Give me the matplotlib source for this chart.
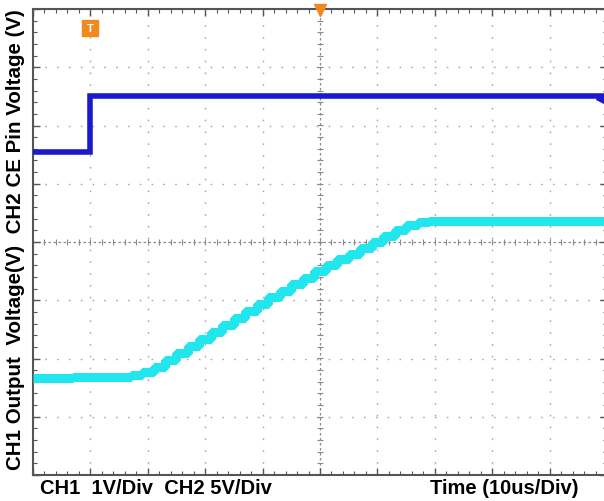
import numpy as np
import matplotlib
matplotlib.use("Agg")
import matplotlib.pyplot as plt
from matplotlib.ticker import MultipleLocator

# screen coordinates in divisions: x -5..5, y -4..4
ch2_x = [-5.0, -4.0, -4.0, 5.0]
ch2_y = [1.55, 1.55, 2.50, 2.50]

ch1_x = [-5.0, -3.6, -3.4, -3.2, -3.0, -2.8, -2.6, -2.4, -2.2, -2.0, -1.8, -1.6,
         -1.4, -1.2, -1.0, -0.8, -0.6, -0.4, -0.2, 0.0, 0.2, 0.4, 0.6, 0.8,
         1.0, 1.2, 1.4, 1.6, 1.8, 2.0, 5.0]
ch1_y = [-2.33, -2.32, -2.31, -2.28, -2.24, -2.15, -2.03, -1.91, -1.78, -1.66,
         -1.54, -1.42, -1.30, -1.18, -1.06, -0.95, -0.84, -0.72, -0.61, -0.50,
         -0.40, -0.30, -0.20, -0.10, 0.00, 0.10, 0.20, 0.29, 0.35, 0.36, 0.36]

ylabel = "CH1 Output  Voltage(V)  CH2 CE Pin Voltage (V)"
scale_text = "CH1  1V/Div  CH2 5V/Div"
time_text = "Time (10us/Div)"

plt.rcParams["font.family"] = ["Liberation Sans", "DejaVu Sans"]

fig = plt.figure(figsize=(6.04, 5.02), dpi=100)
ax = fig.add_axes([33 / 604, 26 / 502, 574 / 604, 466 / 502])
ax.set_xlim(-5, 5)
ax.set_ylim(-4, 4)

# dotted graticule
for gx in range(-4, 5):
    if gx != 0:
        ax.axvline(gx, color="#a8a8a8", lw=1, ls=(0, (1.2, 7.3)), zorder=1)
for gy in range(-3, 4):
    if gy != 0:
        ax.axhline(gy, color="#a8a8a8", lw=1, ls=(0, (1.2, 7.3)), zorder=1)
# centre crosshair with small ticks
ax.axvline(0, color="#8a8a8a", lw=0.9, ls=(0, (2, 2)), zorder=1)
ax.axhline(0, color="#8a8a8a", lw=0.9, ls=(0, (2, 2)), zorder=1)
mt = np.arange(-5, 5.01, 0.2)
ax.plot(mt, np.zeros_like(mt), ls="none", marker="|", ms=5, color="#8a8a8a", mew=0.8, zorder=1)
mt = np.arange(-4, 4.01, 0.2)
ax.plot(np.zeros_like(mt), mt, ls="none", marker="_", ms=5, color="#8a8a8a", mew=0.8, zorder=1)

ax.xaxis.set_major_locator(MultipleLocator(1))
ax.yaxis.set_major_locator(MultipleLocator(1))
ax.xaxis.set_minor_locator(MultipleLocator(0.2))
ax.yaxis.set_minor_locator(MultipleLocator(0.2))
ax.tick_params(which="both", direction="in", top=True, right=True,
               labelbottom=False, labelleft=False, color="#555555")
ax.tick_params(which="major", length=5, width=1)
ax.tick_params(which="minor", length=3, width=0.8)
for sp in ax.spines.values():
    sp.set_color("#555555")
    sp.set_linewidth(1.5)

# traces
ax.plot(ch2_x, ch2_y, color="#1a1acc", lw=4, solid_joinstyle="miter", zorder=3)
ax.plot(ch2_x[1:3], ch2_y[1:3], color="#1a1acc", lw=1, zorder=3)
ax.plot(ch1_x, ch1_y, color="#22e6ee", lw=6.5, drawstyle="steps-mid",
        solid_joinstyle="bevel", solid_capstyle="butt", zorder=3)

# markers
ax.plot(-4.0, 3.68, marker="s", ms=11, color="#f08a1e", zorder=4, clip_on=False)
ax.text(-4.0, 3.68, "T", color="white", fontsize=8, fontweight="bold",
        ha="center", va="center", zorder=5)
ax.plot(0, 3.98, marker="v", ms=8, color="#f08a1e", zorder=4, clip_on=False)
ax.plot(4.9, 2.45, marker="<", ms=7, color="#1a1acc", zorder=4, clip_on=False)

fig.text(16 / 604, 0.5 + 11 / 502, ylabel, rotation=90, ha="center", va="center",
         fontsize=14.8, fontweight="bold")
fig.text(40 / 604, 13 / 502, scale_text, ha="left", va="center",
         fontsize=14.5, fontweight="bold")
fig.text(430 / 604, 13 / 502, time_text, ha="left", va="center",
         fontsize=14.5, fontweight="bold")

fig.savefig("out.png", dpi=100)
